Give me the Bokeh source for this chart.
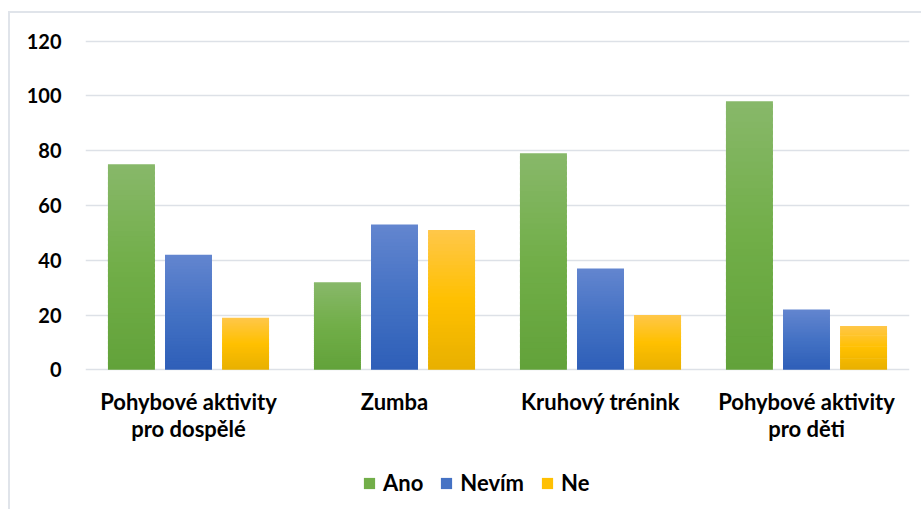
from bokeh.plotting import figure
from bokeh.models import ColumnDataSource, FactorRange, Range1d, Legend, LegendItem, FixedTicker
from bokeh.transform import dodge
from bokeh.core.properties import value
from bokeh.embed import file_html
from bokeh.resources import INLINE

# ---- data ----
categories = ["Pohybové aktivity\npro dospělé", "Zumba", "Kruhový trénink", "Pohybové aktivity\npro děti"]
series_names = ["Ano", "Nevím", "Ne"]
ano = [75, 32, 79, 98]
nevim = [42, 53, 37, 22]
ne = [19, 51, 20, 16]
y_ticks = [0, 20, 40, 60, 80, 100, 120]

# ---- style ----
FONT = "Lato"
FS = "22px"
grad = {
    "Ano": ("#62a23a", "#71ae48", "#88b86a"),
    "Nevím": ("#2e5fb8", "#4472c4", "#6385cf"),
    "Ne": ("#e8b000", "#ffc000", "#ffc74a"),
}
offsets = [-0.277, 0.0, 0.277]
BAR_W = 0.228
N = 40

PX_PER_UNIT = 2.74
Y_END = 120.55
FRAME_H = 470
Y_START = Y_END - FRAME_H / PX_PER_UNIT
LABEL_Y = -18.0 / PX_PER_UNIT   # category label top, below the zero line


def hex2rgb(h):
    h = h.lstrip("#")
    return tuple(int(h[i:i + 2], 16) for i in (0, 2, 4))


def mix(a, b, t):
    ra, rb = hex2rgb(a), hex2rgb(b)
    return "#%02x%02x%02x" % tuple(int(round(ra[i] + (rb[i] - ra[i]) * t)) for i in range(3))


def shade(bottom, mid, top, t):
    if t < 0.5:
        return mix(bottom, mid, t / 0.5)
    return mix(mid, top, (t - 0.5) / 0.5)


p = figure(
    x_range=FactorRange(*categories),
    y_range=Range1d(Y_START, Y_END),
    frame_width=824, frame_height=FRAME_H,
    output_backend="svg", toolbar_location=None,
    min_border_left=75, min_border_right=12, min_border_top=26, min_border_bottom=0,
)
p.outline_line_color = None
p.background_fill_color = "white"
p.border_fill_color = "white"
p.styles = {"margin-left": "8px", "margin-top": "11px",
            "border-top": "2px solid #e0e4ea", "border-left": "2px solid #e0e4ea"}

legend_items = []
for name, vals, off in zip(series_names, [ano, nevim, ne], offsets):
    b, m, t = grad[name]
    xs, bots, tops, cols = [], [], [], []
    for cat, v in zip(categories, vals):
        for k in range(N):
            xs.append(cat)
            bots.append(v * k / N)
            tops.append(v * min(k + 1.6, N) / N)
            cols.append(shade(b, m, t, (k + 0.5) / N))
    src = ColumnDataSource(dict(x=xs, bottom=bots, top=tops, color=cols))
    r = p.vbar(x=dodge("x", off, range=p.x_range), bottom="bottom", top="top", width=BAR_W,
               fill_color="color", line_color=None, source=src)
    legend_items.append(LegendItem(label=name, renderers=[r], index=N // 2))

# category labels (drawn in the plot area below the zero line)
lab_src = ColumnDataSource(dict(x=categories, y=[LABEL_Y] * len(categories), text=categories))
p.text(x="x", y="y", text="text", source=lab_src, text_align="center", text_baseline="top",
       text_font=value(FONT), text_font_style="bold", text_font_size=FS,
       text_color="#000000", text_line_height=1.0)

# grid / axes
p.xgrid.visible = False
p.xaxis.visible = False
p.ygrid.grid_line_color = "#dde1e7"
p.ygrid.grid_line_width = 1.6
p.yaxis.ticker = FixedTicker(ticks=y_ticks)
p.yaxis.axis_line_color = None
p.yaxis.major_tick_line_color = None
p.yaxis.minor_tick_line_color = None
p.yaxis.major_label_text_font = FONT
p.yaxis.major_label_text_font_style = "bold"
p.yaxis.major_label_text_font_size = "20px"
p.yaxis.major_label_text_color = "#000000"
p.yaxis.major_label_standoff = 18

legend = Legend(
    items=legend_items, orientation="horizontal", location=(277, 13),
    glyph_width=14, glyph_height=14, label_standoff=7, spacing=16,
    label_text_font=FONT, label_text_font_style="bold", label_text_font_size=FS,
    label_text_color="#000000", border_line_color=None, background_fill_alpha=0,
    padding=0, margin=0,
)
p.add_layout(legend, "center")

open("out.html", "w").write(file_html(p, INLINE))
